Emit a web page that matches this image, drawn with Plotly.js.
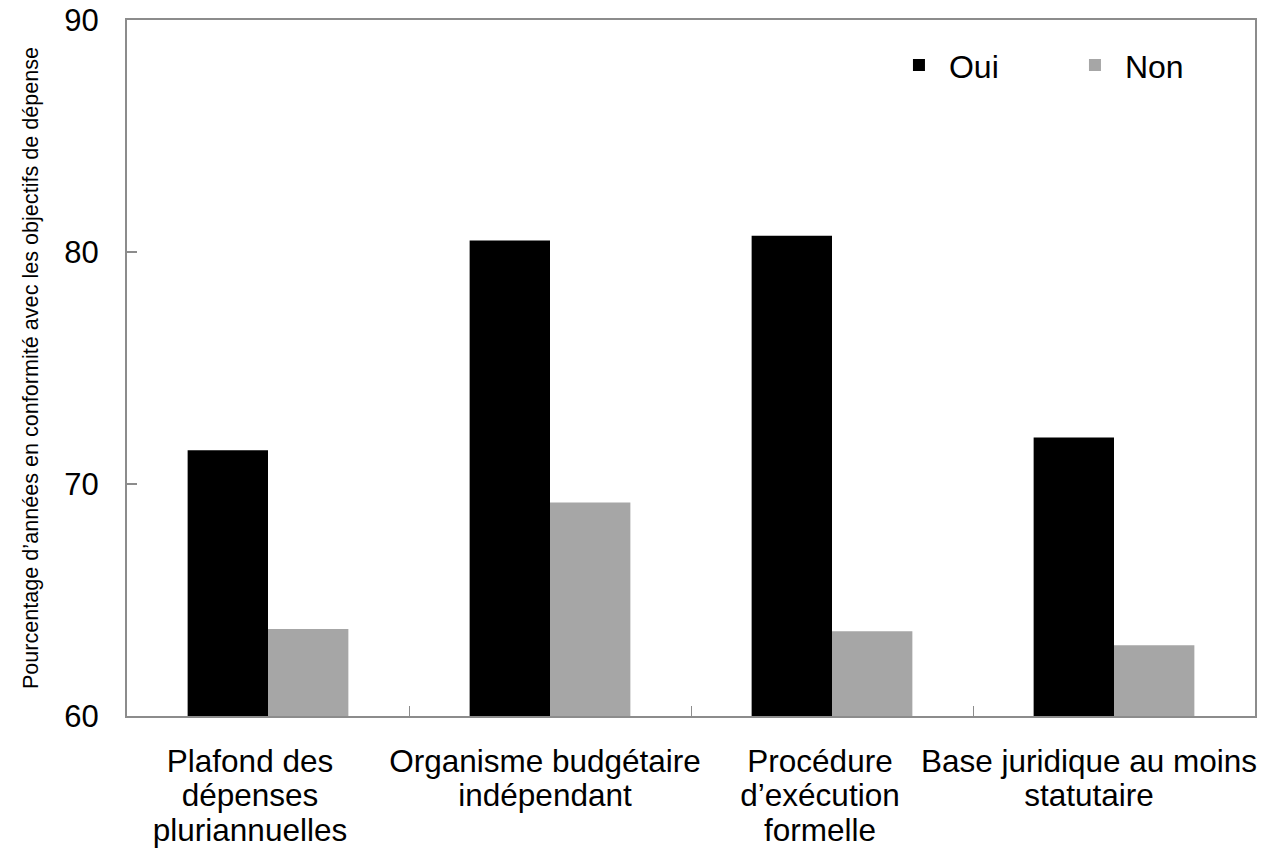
<!DOCTYPE html>
<html><head><meta charset="utf-8">
<script src="https://cdn.plot.ly/plotly-3.0.1.min.js"></script>
<style>html,body{margin:0;padding:0;background:#fff}#chart{width:1265px;height:852px}</style>
</head><body><div id="chart"></div>
<script>
const categories = ["Plafond des<br>dépenses<br>pluriannuelles", "Organisme budgétaire<br>indépendant", "Procédure<br>d’exécution<br>formelle", "Base juridique au moins<br>statutaire"];
const oui = [71.45, 80.5, 80.7, 72.0];
const non = [63.75, 69.2, 63.65, 63.05];
const yTicks = [60, 70, 80, 90];

// horizontal nudges (px) of the category labels, as in the reference layout
const labelNudge = [-18, -5, -12, -25];

const font = "Liberation Sans, Arial, sans-serif";
const axisColor = "#8c8c8c";
const data = [
  {type: "bar", name: "Oui", x: categories, y: oui, marker: {color: "#000000"}},
  {type: "bar", name: "Non", x: categories, y: non, marker: {color: "#a6a6a6"}}
];
const layout = {
  width: 1265, height: 852,
  margin: {l: 127, r: 10, t: 20, b: 136, autoexpand: false},
  paper_bgcolor: "#fff", plot_bgcolor: "#fff",
  barmode: "group", bargap: 0.43, bargroupgap: 0,
  font: {family: font, color: "#000", size: 32},
  showlegend: true,
  legend: {orientation: "h", x: 0.6755, y: 0.935, xanchor: "left", yanchor: "middle",
           font: {size: 32, family: font}, itemwidth: 50, entrywidth: 111, entrywidthmode: "pixels",
           tracegroupgap: 0, bgcolor: "rgba(0,0,0,0)"},
  xaxis: {type: "category", showline: true, linecolor: axisColor, linewidth: 2, mirror: true,
          ticks: "inside", tickson: "boundaries", ticklen: 10, tickcolor: axisColor, tickwidth: 1,
          showgrid: false, tickangle: 0, tickfont: {size: 31.5, family: font}, ticklabelstandoff: 16, automargin: false},
  yaxis: {range: [60, 90], tickvals: yTicks, showline: true, linecolor: axisColor, linewidth: 2, mirror: true,
          ticks: "inside", ticklen: 10, tickcolor: axisColor, tickwidth: 1.5, showgrid: false, zeroline: false,
          tickfont: {size: 31, family: font}, ticklabelstandoff: 20, automargin: false,
          title: {text: "Pourcentage d’années en conformité avec les objectifs de dépense", font: {size: 21.6, family: font}, standoff: 20}}
};
Plotly.newPlot("chart", data, layout, {displayModeBar: false, staticPlot: true}).then(() => {
  const texts = Array.from(document.querySelectorAll(".xaxislayer-above text"));
  texts.forEach(t => {
    t.querySelectorAll("tspan.line").forEach(s => {
      const d = parseFloat(s.getAttribute("dy"));
      if (!isNaN(d)) s.setAttribute("dy", (d * 1.1 / 1.3) + "em");
    });
  });
  texts.sort((a, b) => a.getBoundingClientRect().left - b.getBoundingClientRect().left);
  texts.forEach((t, i) => {
    if (labelNudge[i] !== undefined) {
      const prev = t.getAttribute("transform") || "";
      t.setAttribute("transform", "translate(" + labelNudge[i] + ",0) " + prev);
    }
  });
});
</script></body></html>
